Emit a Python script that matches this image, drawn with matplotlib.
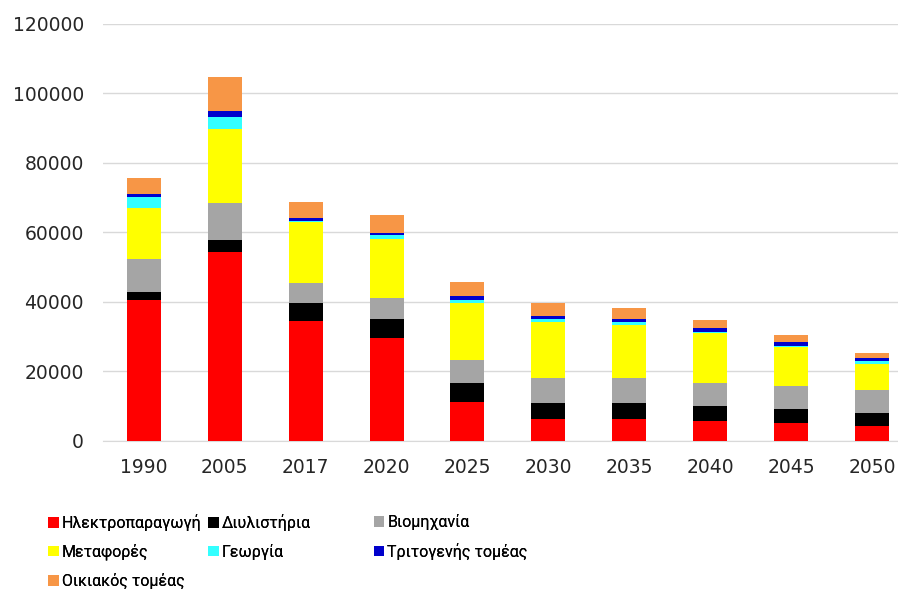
import matplotlib
matplotlib.use("Agg")
import matplotlib.pyplot as plt
import numpy as np

years = ["1990", "2005", "2017", "2020", "2025", "2030", "2035", "2040", "2045", "2050"]

elec = [40500, 54300, 34600, 29700, 11200, 6200, 6200, 5700, 5200, 4300]
refineries = [2300, 3500, 5200, 5300, 5400, 4800, 4800, 4300, 3900, 3800]
industry = [9500, 10600, 5600, 6200, 6600, 7000, 7000, 6800, 6700, 6500]
transport = [14700, 21400, 17500, 16900, 16600, 16100, 15400, 14100, 11100, 7400]
agriculture = [3300, 3400, 300, 1000, 800, 900, 700, 500, 500, 1000]
tertiary = [600, 1600, 900, 800, 1000, 1000, 900, 1000, 1000, 800]
residential = [4600, 10000, 4600, 5100, 4000, 3800, 3200, 2400, 2000, 1600]

series = [
    ("Ηλεκτροπαραγωγή", elec, "#ff0000"),
    ("Διυλιστήρια", refineries, "#000000"),
    ("Βιομηχανία", industry, "#a5a5a5"),
    ("Μεταφορές", transport, "#ffff00"),
    ("Γεωργία", agriculture, "#33ffff"),
    ("Τριτογενής τομέας", tertiary, "#0000cc"),
    ("Οικιακός τομέας", residential, "#f79646"),
]

fig = plt.figure(figsize=(8.98, 5.95), dpi=100)
ax = fig.add_axes([0.115, 0.259, 0.885, 0.701])

x = np.arange(len(years))
bottom = np.zeros(len(years))
handles = []
for name, vals, col in series:
    h = ax.bar(x, vals, width=0.42, bottom=bottom, color=col, label=name, zorder=3)
    handles.append(h)
    bottom += np.array(vals)

ax.set_ylim(0, 120000)
ax.set_xlim(-0.5, 9.32)
ax.set_yticks(np.arange(0, 120001, 20000))
ax.set_xticks(x)
ax.set_xticklabels(years)
ax.yaxis.grid(True, color="#d9d9d9", linewidth=1.0, zorder=0)
ax.set_axisbelow(True)
for s in ["top", "right", "left"]:
    ax.spines[s].set_visible(False)
ax.spines["bottom"].set_color("#d9d9d9")
ax.tick_params(axis="both", length=0, labelsize=13.5, colors="#262626")
ax.tick_params(axis="x", pad=12)
ax.tick_params(axis="y", pad=14)

legend_font = {"family": ["Roboto", "DejaVu Sans"], "size": 11.5}
columns = [
    ([0, 3, 6], 0.054),
    ([1, 4], 0.232),
    ([2, 5], 0.416),
]
for idx, xpos in columns:
    leg = fig.legend(
        [handles[i] for i in idx],
        [series[i][0] for i in idx],
        loc="upper left",
        bbox_to_anchor=(xpos, 0.136),
        frameon=False,
        handlelength=0.65,
        handleheight=0.65,
        handletextpad=0.2,
        labelspacing=0.8,
        borderpad=0,
        borderaxespad=0,
        prop=legend_font,
    )
    fig.add_artist(leg)

fig.savefig("out.png", dpi=100, facecolor="white")
